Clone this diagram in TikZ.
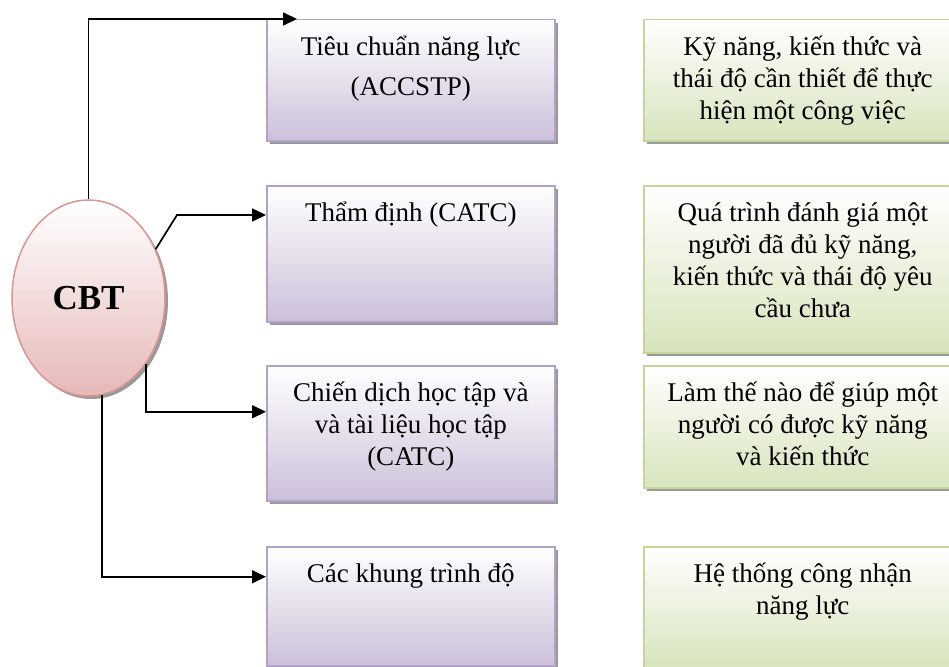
\documentclass[tikz,border=0pt]{standalone}
\usepackage{fontspec}
\setmainfont{Liberation Serif}
\usetikzlibrary{shapes.geometric,shadows,arrows.meta}
\definecolor{lilacEdge}{HTML}{B3A2C7}
\definecolor{lilacFill}{HTML}{CCC0DA}
\definecolor{leafEdge}{HTML}{C3D69B}
\definecolor{leafFill}{HTML}{D7E4BD}
\definecolor{roseEdge}{HTML}{D99694}
\definecolor{roseFill}{HTML}{E6B9B8}

\begin{document}
\begin{tikzpicture}[x=1pt,y=-1pt,
  boxShadow/.style={drop shadow={shadow xshift=3pt,shadow yshift=-3pt,fill=black!40,opacity=1}},
  box/.style={rectangle,anchor=north west,line width=1.5pt,inner xsep=4pt,inner ysep=0pt,
    text height=36pt,align=flush center,font=\fontsize{27}{32}\selectfont,boxShadow},
  lilac/.style={box,draw=lilacEdge,top color=white,bottom color=lilacFill,text width=280pt},
  leaf/.style={box,draw=leafEdge,top color=white,bottom color=leafFill,text width=310pt},
  link/.style={line width=1.7pt,-{Triangle[length=14pt,width=13pt]}}]
\useasboundingbox (0,0) rectangle (949,666);
\node[ellipse,draw=roseEdge,line width=1.5pt,top color=white,bottom color=roseFill,
  minimum width=153pt,minimum height=196pt,inner sep=0pt,boxShadow,
  font=\fontsize{35}{35}\selectfont\bfseries] (cbt) at (88.5,298) {CBT};
\node[lilac,text depth=85pt,font=\fontsize{27}{40}\selectfont] (standardBox) at (266,19) {Tiêu chuẩn năng lực\\(ACCSTP)};
\node[lilac,text depth=100pt] (assessBox) at (266,185) {Thẩm định (CATC)};
\node[lilac,text depth=99pt] (learnBox) at (266,365) {Chiến dịch học tập và\\và tài liệu học tập\\(CATC)};
\node[lilac,text depth=83pt] (levelBox) at (266,546) {Các khung trình độ};
\node[leaf,text depth=85pt] (skillBox) at (643,19) {Kỹ năng, kiến thức và\\thái độ cần thiết để thực\\hiện một công việc};
\node[leaf,text depth=131pt] (processBox) at (643,185) {Quá trình đánh giá một\\người đã đủ kỹ năng,\\kiến thức và thái độ yêu\\cầu chưa};
\node[leaf,text depth=86pt] (helpBox) at (643,365) {Làm thế nào để giúp một\\người có được kỹ năng\\và kiến thức};
\node[leaf,text depth=86pt] (systemBox) at (643,546) {Hệ thống công nhận\\năng lực};
\coordinate (bendTwo) at (177,215);
\draw[link] (cbt.north) |- ([xshift=31pt]standardBox.north west);
\draw[link] (cbt.36) -- (bendTwo) -- (bendTwo -| assessBox.west);
\draw[link] (cbt.-49) |- ([yshift=21.5pt]learnBox.west);
\draw[link] (cbt.-82) |- ([yshift=29.5pt]levelBox.west);
\end{tikzpicture}
\end{document}
